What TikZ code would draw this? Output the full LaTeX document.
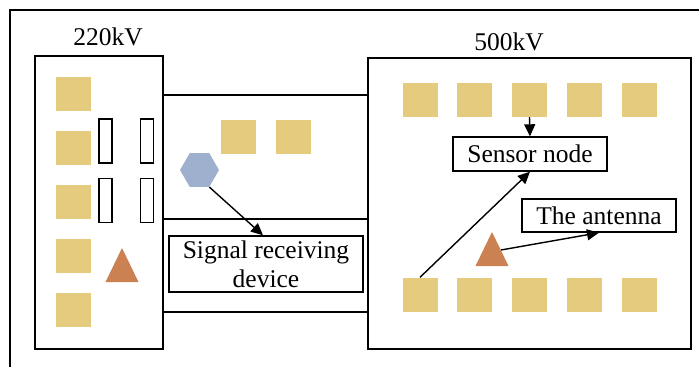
\documentclass[tikz,border=0pt]{standalone}
\usepackage{fontspec}
\setmainfont{Liberation Serif}
\usetikzlibrary{shapes.geometric,arrows.meta}
\definecolor{sqc}{HTML}{E5CB7E}
\definecolor{hexc}{HTML}{9FB0CF}
\definecolor{tric}{HTML}{CC8152}
\begin{document}
\begin{tikzpicture}[x=1pt,y=-1pt,
  frame/.style={draw,line width=1.6pt,rectangle,inner sep=0pt},
  sq/.style={rectangle,fill=sqc,minimum width=35pt,minimum height=34pt,inner sep=0pt},
  slot/.style={draw,line width=1.4pt,rectangle,minimum width=13pt,minimum height=44pt,inner sep=0pt},
  lbl/.style={draw,line width=1.4pt,rectangle,inner sep=0pt,font=\fontsize{25.5}{29}\selectfont,align=center},
  txt/.style={font=\fontsize{25.5}{29}\selectfont,inner sep=0pt},
  arr/.style={line width=1.4pt,-{Triangle[length=12pt,width=11pt]}},
  wire/.style={line width=1.6pt}]
\useasboundingbox (0,0) rectangle (699,367);
% outer frame (cropped)
\draw[line width=1.6pt] (10,367) -- (10,10) -- (699,10);
% boxes
\node[frame,minimum width=128pt,minimum height=293pt] (lbox) at (99,202.5) {};
\node[frame,minimum width=323pt,minimum height=291pt] (rbox) at (529.5,203.5) {};
\node[txt,anchor=base] (l220) at (108,45) {220kV};
\node[txt,anchor=base] (l500) at (509,50) {500kV};
% wires between boxes
\coordinate (w1) at (200,95);
\coordinate (w2) at (200,219);
\coordinate (w3) at (200,312);
\draw[wire] (lbox.east |- w1) -- (rbox.west |- w1);
\draw[wire] (lbox.east |- w2) -- (rbox.west |- w2);
\draw[wire] (lbox.east |- w3) -- (rbox.west |- w3);
% left box content
\foreach \i/\y in {1/94,2/147.5,3/202,4/256,5/310}
  \node[sq] (lsq\i) at (73.5,\y) {};
\node[slot] (s1) at (105.5,141) {};
\node[slot] (s2) at (147,141) {};
\node[slot] (s3) at (105.5,200.5) {};
\node[slot] (s4) at (147,200.5) {};
\fill[tric] (122,248) -- (138.5,282) -- (105.5,282) -- cycle;
% middle
\node[sq] (msq1) at (238.5,136.5) {};
\node[sq] (msq2) at (293.5,136.5) {};
\node[regular polygon,regular polygon sides=6,fill=hexc,minimum size=39pt,inner sep=0pt] (hex) at (199.5,170) {};
\node[lbl,minimum width=194pt,minimum height=56pt] (sig) at (266,264) {Signal receiving\\device};
\coordinate (sigtop) at (263,236);
\draw[arr] (hex.-60) -- (sig.north -| sigtop);
% right box content
\foreach \i/\x in {1/420,2/474.5,3/529.5,4/584,5/639}{
  \node[sq] (tsq\i) at (\x,100) {};
  \node[sq] (bsq\i) at (\x,294.5) {};
}
\node[lbl,minimum width=154pt,minimum height=34pt] (sensor) at (530,154) {Sensor node};
\node[lbl,minimum width=154pt,minimum height=33pt] (ant) at (599,215.5) {The antenna};
\fill[tric] (492,232) -- (508.5,266) -- (475.5,266) -- cycle;
\coordinate (tri2) at (501,250);
\draw[arr] (tsq3.south) -- (sensor.north);
\draw[arr] (bsq1.north) -- (sensor.south);
\draw[arr] (tri2) -- (ant.south);
\end{tikzpicture}
\end{document}
